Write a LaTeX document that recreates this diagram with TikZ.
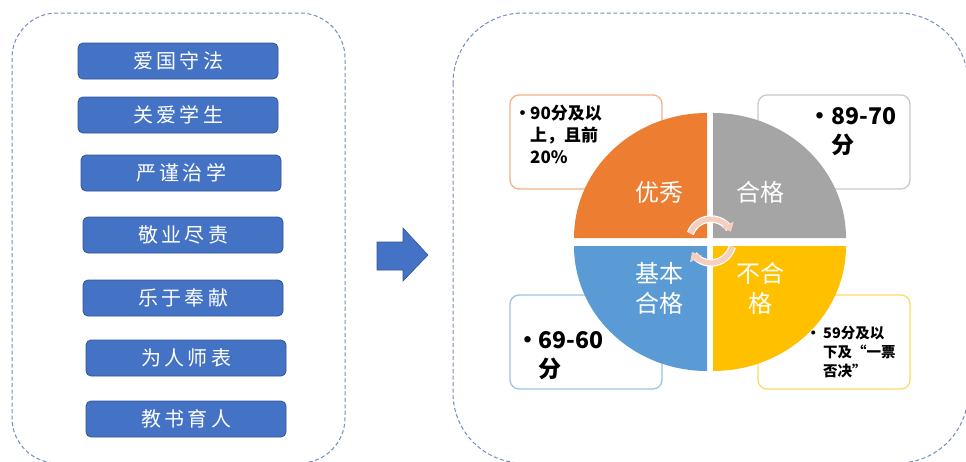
\documentclass[tikz,border=0pt]{standalone}
\usepackage{fontspec}
\setmainfont{Noto Sans CJK SC}
\usetikzlibrary{arrows.meta}
\definecolor{vblue}{HTML}{4472C4}
\definecolor{vblueb}{HTML}{2F5597}
\definecolor{dashc}{RGB}{115,140,190}
\definecolor{qorange}{HTML}{ED7D31}
\definecolor{qgray}{HTML}{A5A5A5}
\definecolor{qblue}{HTML}{5B9BD5}
\definecolor{qyellow}{HTML}{FFC000}
\definecolor{borange}{HTML}{F4B183}
\definecolor{bgray}{HTML}{C9C9C9}
\definecolor{bblue}{HTML}{9DC3E6}
\definecolor{byellow}{HTML}{FFD966}
\definecolor{cyc}{RGB}{246,206,190}
\tikzset{
  vbox/.style={draw=vblueb, fill=vblue, line width=0.8pt, rounded corners=5pt,
    minimum width=200pt, minimum height=36pt, inner sep=0pt, text=white,
    font=\fontsize{20}{24}\selectfont},
  frame/.style={draw=dashc, line width=1pt, dash pattern=on 4pt off 2.5pt},
  tbox/.style={fill=white, line width=1.3pt, rounded corners=9pt},
  plab/.style={text=white, font=\fontsize{24}{30}\selectfont, align=center, inner sep=0pt},
  btext/.style={anchor=base west, inner sep=0pt, align=left, text=black},
  cycarrow/.style={draw=cyc, line width=5pt, -{Triangle[width=13pt,length=8pt]}},
  cycback/.style={draw=white, line width=7.5pt},
  blockarrow/.style={fill=vblue, draw=vblueb, line width=0.6pt}
}
\begin{document}
\begin{tikzpicture}[x=1pt,y=-1pt]
\useasboundingbox (0,0) rectangle (966,461);
\clip (0,0) rectangle (966,461);
% frames
\draw[frame, rounded corners=45pt] (12,13) rectangle (345,463);
\draw[frame, rounded corners=70pt] (453,13) rectangle (968,463);
% left boxes
\node[vbox] (v1) at (178,61) {爱\,国\,守\,法};
\node[vbox] (v2) at (178,115) {关\,爱\,学\,生};
\node[vbox] (v3) at (181,173) {严\,谨\,治\,学};
\node[vbox] (v4) at (183,235) {敬\,业\,尽\,责};
\node[vbox] (v5) at (183,298) {乐\,于\,奉\,献};
\node[vbox] (v6) at (186,358) {为\,人\,师\,表};
\node[vbox] (v7) at (186,419) {教\,书\,育\,人};
% block arrow
\draw[blockarrow] (377,242) -- (403,242) -- (403,228) -- (428,255) -- (403,281) -- (403,270) -- (377,270) -- cycle;
% text boxes
\draw[tbox, draw=borange] (510,95) rectangle (662,189);
\draw[tbox, draw=bgray] (758,95) rectangle (910,189);
\draw[tbox, draw=bblue] (510,295) rectangle (662,389);
\draw[tbox, draw=byellow] (758,295) rectangle (910,389);
% pie
\fill[qorange] (707,238) -- (574,238) arc[start angle=180, end angle=270, x radius=133, y radius=125] -- cycle;
\fill[qgray] (713,238) -- (713,113) arc[start angle=270, end angle=360, x radius=133, y radius=125] -- cycle;
\fill[qblue] (707,246) -- (707,371) arc[start angle=90, end angle=180, x radius=133, y radius=125] -- cycle;
\fill[qyellow] (713,246) -- (846,246) arc[start angle=0, end angle=90, x radius=133, y radius=125] -- cycle;
% pie labels
\node[plab] (p1) at (659,192) {优秀};
\node[plab] (p2) at (760,192) {合格};
\node[plab] (p3) at (659,288) {基本\\合格};
\node[plab] (p4) at (760,288) {不合\\格};
% cycle arrows
\coordinate (cc) at (711,241);
\draw[cycback] (cc) ++(200:22) arc[start angle=200, end angle=326, radius=22];
\draw[cycback] (cc) ++(15:22) arc[start angle=15, end angle=141, radius=22];
\draw[cycarrow] (cc) ++(200:22) arc[start angle=200, end angle=335, radius=22];
\draw[cycarrow] (cc) ++(15:22) arc[start angle=15, end angle=150, radius=22];
% box texts (base = last line)
\node[btext, font=\bfseries\fontsize{17}{22}\selectfont] (t1) at (514,163)
  {\makebox[16pt][l]{•}90分及以\\\makebox[16pt]{}上，且前\\\makebox[16pt]{}20\%};
\node[btext, font=\bfseries\fontsize{23}{29}\selectfont] (t2) at (808,153)
  {\makebox[23pt][l]{•}89-70\\\makebox[23pt]{}分};
\node[btext, font=\bfseries\fontsize{23}{29}\selectfont] (t3) at (516,377)
  {\makebox[22pt][l]{•}69-60\\\makebox[22pt]{}分};
\node[btext, font=\bfseries\fontsize{14.5}{19}\selectfont] (t4) at (806,376)
  {\makebox[17pt][l]{•}59分及以\\\makebox[17pt]{}下及“一票\\\makebox[17pt]{}否决”};
\end{tikzpicture}
\end{document}
